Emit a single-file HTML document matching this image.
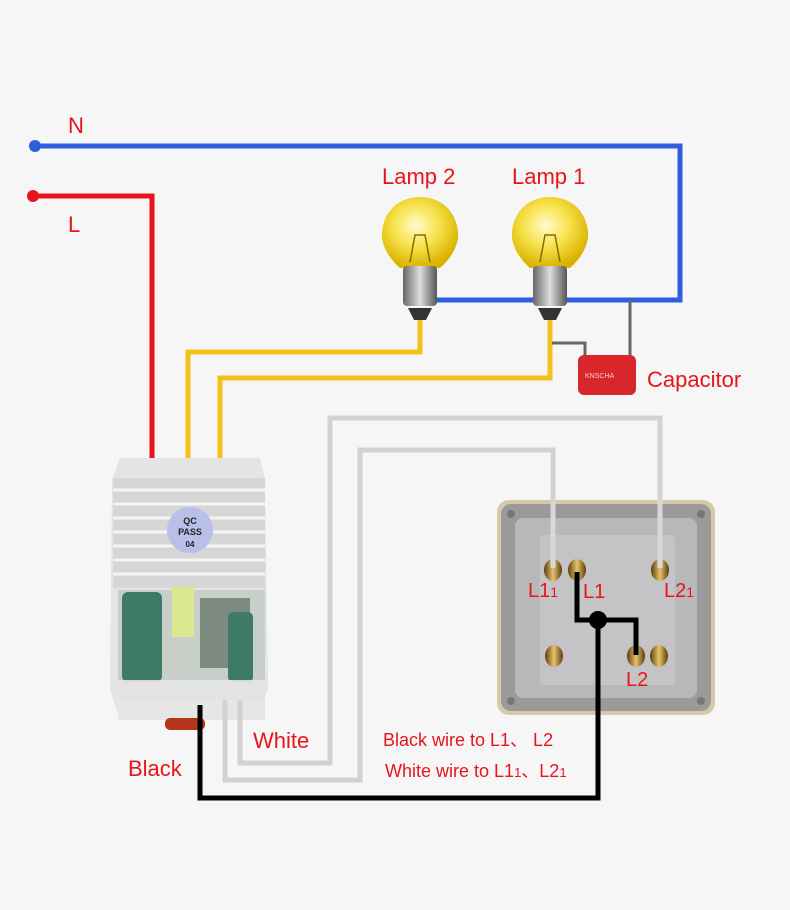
<!DOCTYPE html>
<html><head><meta charset="utf-8"><style>
body{margin:0;background:#f6f6f6;}
svg{display:block;font-family:"Liberation Sans","Noto Sans CJK SC",sans-serif;}
.t{fill:#e8141c;}
</style></head><body>
<svg width="790" height="910" viewBox="0 0 790 910">
<defs>
<radialGradient id="bulb" cx="0.45" cy="0.4" r="0.6">
<stop offset="0" stop-color="#fffbd0"/><stop offset="0.5" stop-color="#f7e24a"/><stop offset="1" stop-color="#d9b200"/></radialGradient>
<linearGradient id="screw" x1="0" x2="1"><stop offset="0" stop-color="#666"/><stop offset="0.5" stop-color="#ddd"/><stop offset="1" stop-color="#555"/></linearGradient>
<linearGradient id="term" x1="0" x2="1"><stop offset="0" stop-color="#5a3d10"/><stop offset="0.5" stop-color="#e8c36a"/><stop offset="1" stop-color="#5a3d10"/></linearGradient>
</defs>
<rect width="790" height="910" fill="#f6f6f6"/>
<!-- N wire -->
<polyline points="35,146 680,146 680,300 435,300" fill="none" stroke="#2f5de0" stroke-width="5"/>
<circle cx="35" cy="146" r="6" fill="#2f5de0"/>
<!-- L wire -->
<polyline points="33,196 152,196 152,462" fill="none" stroke="#e8141c" stroke-width="5"/>
<circle cx="33" cy="196" r="6" fill="#e8141c"/>
<text x="68" y="133" class="t" font-size="22">N</text>
<text x="68" y="232" class="t" font-size="22">L</text>
<text x="382" y="184" class="t" font-size="22">Lamp 2</text>
<text x="512" y="184" class="t" font-size="22">Lamp 1</text>
<!-- yellow -->
<polyline points="420,315 420,352 188,352 188,462" fill="none" stroke="#f3c21a" stroke-width="5"/>
<polyline points="550,320 550,378 220,378 220,462" fill="none" stroke="#f3c21a" stroke-width="5"/>
<!-- capacitor wires -->
<polyline points="552,343 585,343 585,362" fill="none" stroke="#666" stroke-width="3"/>
<polyline points="630,300 630,362" fill="none" stroke="#666" stroke-width="3"/>
<rect x="578" y="355" width="58" height="40" rx="6" fill="#d8262a"/>
<text x="585" y="378" font-size="7" fill="#fcc">KNSCHA</text>
<text x="647" y="387" class="t" font-size="22">Capacitor</text>
<!-- bulbs -->
<g>
<path d="M400,268 C385,255 381,240 382,232 C384,210 400,197 420,197 C440,197 456,210 458,232 C459,240 455,255 440,268 Z" fill="url(#bulb)"/>
<rect x="403" y="266" width="34" height="40" rx="4" fill="url(#screw)"/>
<path d="M408,308 L432,308 L426,320 L414,320Z" fill="#333"/>
<path d="M410,262 L415,235 L425,235 L430,262" fill="none" stroke="#8a6a00" stroke-width="1.5"/>
</g>
<g transform="translate(130,0)">
<path d="M400,268 C385,255 381,240 382,232 C384,210 400,197 420,197 C440,197 456,210 458,232 C459,240 455,255 440,268 Z" fill="url(#bulb)"/>
<rect x="403" y="266" width="34" height="40" rx="4" fill="url(#screw)"/>
<path d="M408,308 L432,308 L426,320 L414,320Z" fill="#333"/>
<path d="M410,262 L415,235 L425,235 L430,262" fill="none" stroke="#8a6a00" stroke-width="1.5"/>
</g>
<!-- module -->
<path d="M120,458 L260,458 L265,480 L268,690 L255,720 L120,720 L110,690 L112,480Z" fill="#e4e4e4"/>
<rect x="113" y="478" width="152" height="110" fill="#d6d6d6"/>
<g stroke="#f4f4f4" stroke-width="3">
<line x1="113" y1="490" x2="265" y2="490"/><line x1="113" y1="504" x2="265" y2="504"/><line x1="113" y1="518" x2="265" y2="518"/><line x1="113" y1="532" x2="265" y2="532"/><line x1="113" y1="546" x2="265" y2="546"/><line x1="113" y1="560" x2="265" y2="560"/><line x1="113" y1="574" x2="265" y2="574"/></g>
<circle cx="190" cy="530" r="23" fill="#b8bfe8"/>
<text x="190" y="524" font-size="9" font-weight="bold" text-anchor="middle" fill="#222">QC</text>
<text x="190" y="535" font-size="9" font-weight="bold" text-anchor="middle" fill="#222">PASS</text>
<text x="190" y="547" font-size="8" font-weight="bold" text-anchor="middle" fill="#222">04</text>
<rect x="118" y="590" width="147" height="110" fill="#c8cec8"/>
<rect x="122" y="592" width="40" height="90" rx="6" fill="#3f7a68"/>
<rect x="172" y="587" width="22" height="50" fill="#dce890"/>
<rect x="200" y="598" width="50" height="70" fill="#7c8a80"/>
<rect x="228" y="612" width="25" height="70" rx="5" fill="#3f7a68"/>
<rect x="118" y="680" width="147" height="40" fill="#e6e6e6" opacity="0.9"/>
<rect x="165" y="718" width="40" height="12" rx="5" fill="#b5351c"/>
<!-- white wires -->
<polyline points="225,700 225,780 360,780 360,450 553,450 553,570" fill="none" stroke="#d2d2d2" stroke-width="5"/>
<polyline points="240,700 240,763 330,763 330,418 660,418 660,570" fill="none" stroke="#d2d2d2" stroke-width="5"/>
<!-- switch -->
<rect x="497" y="500" width="218" height="215" rx="12" fill="#d8c8aa"/>
<rect x="501" y="504" width="210" height="207" rx="10" fill="#9a9a9a"/>
<rect x="515" y="518" width="182" height="180" rx="8" fill="#b8b8b8"/>
<rect x="540" y="535" width="135" height="150" rx="4" fill="#c4c4c6"/>
<circle cx="511" cy="514" r="4" fill="#777"/><circle cx="701" cy="514" r="4" fill="#777"/>
<circle cx="511" cy="701" r="4" fill="#777"/><circle cx="701" cy="701" r="4" fill="#777"/>
<g fill="url(#term)">
<ellipse cx="553" cy="570" rx="9" ry="11"/><ellipse cx="577" cy="570" rx="9" ry="11"/><ellipse cx="660" cy="570" rx="9" ry="11"/>
<ellipse cx="554" cy="656" rx="9" ry="11"/><ellipse cx="636" cy="656" rx="9" ry="11"/><ellipse cx="659" cy="656" rx="9" ry="11"/></g>
<line x1="553" y1="500" x2="553" y2="568" stroke="#d8d8d8" stroke-width="5"/>
<line x1="660" y1="500" x2="660" y2="568" stroke="#d8d8d8" stroke-width="5"/>
<text x="528" y="597" class="t" font-size="20">L1<tspan font-size="14">1</tspan></text>
<text x="583" y="598" class="t" font-size="20">L1</text>
<text x="664" y="597" class="t" font-size="20">L2<tspan font-size="14">1</tspan></text>
<text x="626" y="686" class="t" font-size="20">L2</text>
<!-- black -->
<polyline points="200,705 200,798 598,798 598,620" fill="none" stroke="#000" stroke-width="5"/>
<polyline points="577,572 577,620 636,620 636,655" fill="none" stroke="#000" stroke-width="5"/>
<circle cx="598" cy="620" r="9" fill="#000"/>
<text x="253" y="748" class="t" font-size="22">White</text>
<text x="128" y="776" class="t" font-size="22">Black</text>
<text x="383" y="746" class="t" font-size="18">Black wire to L1、 L2</text>
<text x="385" y="777" class="t" font-size="18">White wire to L1<tspan font-size="13">1</tspan>、L2<tspan font-size="13">1</tspan></text>
</svg>
</body></html>
